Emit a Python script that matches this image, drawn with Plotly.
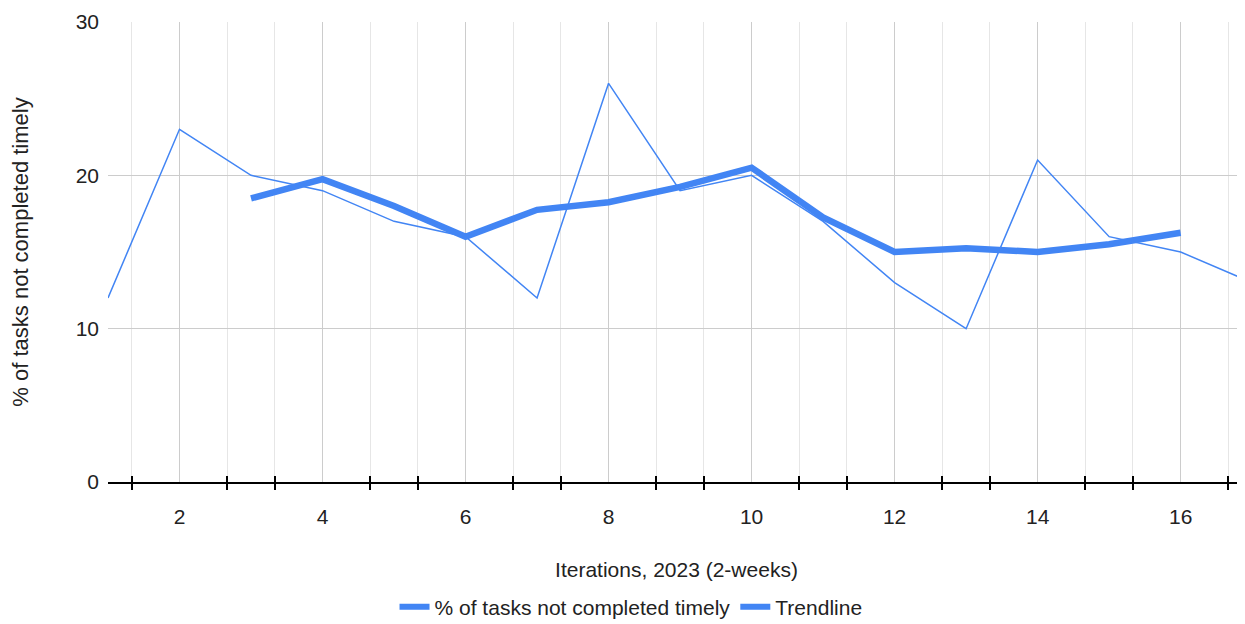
import plotly.graph_objects as go

iterations = list(range(1, 18))
pct_late = [12, 23, 20, 19, 17, 16, 12, 26, 19, 20, 17, 13, 10, 21, 16, 15, 13]
trend_x = list(range(3, 17))
trend_y = [18.5, 19.75, 18.0, 16.0, 17.75, 18.25, 19.25, 20.5, 17.25, 15.0, 15.25, 15.0, 15.5, 16.25]
series_names = ["% of tasks not completed timely", "Trendline"]

BLUE = "#4285F4"
FONT = "Liberation Sans, Arial, sans-serif"
TXT = "#222222"
FS = 21

fig = go.Figure()
fig.add_trace(go.Scatter(x=iterations, y=pct_late, mode="lines",
                         name=series_names[0], showlegend=False,
                         line=dict(color=BLUE, width=1.5)))
fig.add_trace(go.Scatter(x=trend_x, y=trend_y, mode="lines", name=series_names[1],
                         showlegend=False, line=dict(color=BLUE, width=6.5)))
# legend entries (thick swatches for both, as in the reference)
for nm in series_names:
    fig.add_trace(go.Scatter(x=[None], y=[None], mode="lines", name=nm,
                             line=dict(color=BLUE, width=6)))
# invisible trace to activate the overlay axis used for the inward half of ticks
fig.add_trace(go.Scatter(x=[None], y=[None], xaxis="x2", showlegend=False, hoverinfo="skip"))

x_range = [1, 16.9]
fig.update_layout(
    width=1245, height=660,
    margin=dict(l=100, r=8, t=14, b=186),
    paper_bgcolor="white", plot_bgcolor="white",
    font=dict(family=FONT, size=FS, color=TXT),
    showlegend=True,
    legend=dict(orientation="h", x=0.46, xanchor="center", y=-0.272, yanchor="middle",
                font=dict(size=21, color=TXT), itemwidth=30, tracegroupgap=0),
    xaxis=dict(range=x_range, tick0=0, dtick=2, ticks="", showline=True,
               linecolor="black", linewidth=1.5, showgrid=True, gridcolor="#cccccc",
               gridwidth=1, zeroline=False, ticklabelstandoff=15, automargin=False,
               tickfont=dict(size=FS, color=TXT),
               title=dict(text="Iterations, 2023 (2-weeks)", standoff=35,
                          font=dict(size=FS, color=TXT)),
               minor=dict(tick0=0, dtick=2/3, ticks="outside", ticklen=6,
                          tickcolor="black", tickwidth=1.5, showgrid=True,
                          gridcolor="#e6e6e6", gridwidth=1)),
    xaxis2=dict(range=x_range, overlaying="x", anchor="y", side="bottom",
                tick0=0, dtick=2, ticks="", showticklabels=False, showgrid=False,
                showline=False, zeroline=False, automargin=False,
                minor=dict(tick0=0, dtick=2/3, ticks="inside", ticklen=6,
                           tickcolor="black", tickwidth=1.5, showgrid=False)),
    yaxis=dict(range=[0, 30], dtick=10, showgrid=True, gridcolor="#cccccc",
               gridwidth=1, zeroline=False, showline=False, ticks="",
               ticklabelstandoff=8, automargin=False,
               tickfont=dict(size=FS, color=TXT),
               title=dict(text="% of tasks not completed timely", standoff=44,
                          font=dict(size=22, color=TXT))),
)

fig.write_html("out.html")
